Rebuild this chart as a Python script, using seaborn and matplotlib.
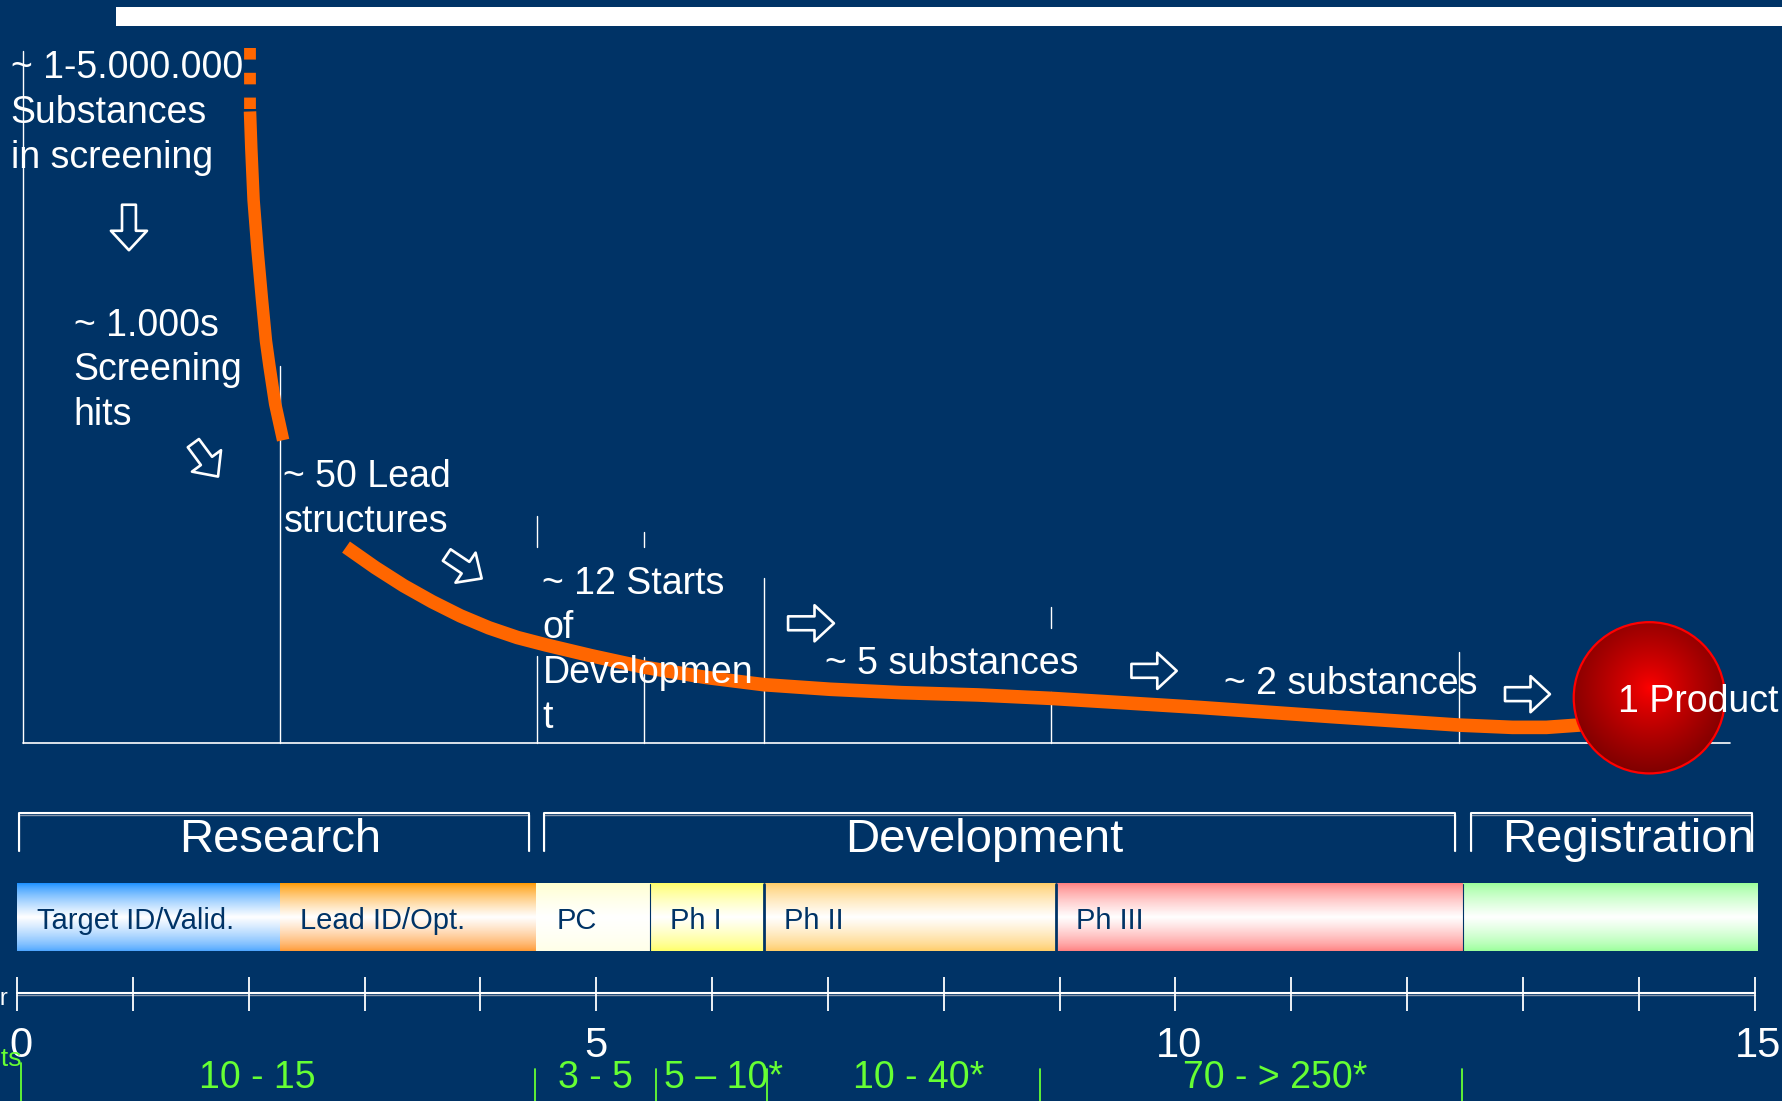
import numpy as np
import matplotlib
matplotlib.use("Agg")
import matplotlib.pyplot as plt
from matplotlib.patches import Ellipse
from matplotlib.colors import to_rgb
import seaborn as sns

NAVY = "#003366"
ORANGE = "#FF6600"
GREEN = "#66FF33"
WHITE = "#FFFFFF"
SHADE = "#8797AD"

# ---------------- data ----------------
# time axis (years)
years = list(range(0, 16))
year_labels = {0: "0", 5: "5", 10: "10", 15: "15"}

# phases of the pipeline (years)
phase_names = ["Target ID/Valid.", "Lead ID/Opt.", "PC", "Ph I", "Ph II", "Ph III", ""]
phase_start = [0.0, 2.27, 4.48, 5.46, 6.45, 8.97, 12.48]
phase_end = [2.27, 4.48, 5.46, 6.45, 8.97, 12.48, 15.02]
phase_top = ["#1A8FFF", "#FF9900", "#FFFFCC", "#FFFF66", "#FFCC66", "#FF7F7F", "#99FF99"]
phase_bottom = ["#4DA6FF", "#FF9933", "#FFFFE6", "#FFFF66", "#FFCC66", "#FF8080", "#99FF99"]

# overall stages
stage_names = ["Research", "Development", "Registration"]
stage_start = [0.02, 4.55, 12.55]
stage_end = [4.42, 12.41, 14.98]
stage_label_x = [2.27, 8.35, 13.905]

# costs per phase
cost_labels = ["10 - 15", "3 - 5", "5 – 10*", "10 - 40*", "70 - > 250*"]
cost_centers = [2.07, 4.99, 6.10, 7.78, 10.86]
cost_bounds = [0.03, 4.47, 5.52, 6.47, 8.83, 12.47]

# attrition funnel: x in years, y in rows counted from the top of the sheet
screen_dash_x = [2.008, 2.008]
screen_dash_y = [42, 95.5]
screen_x = [2.011, 2.022, 2.042, 2.076, 2.115, 2.149, 2.179, 2.228, 2.297]
screen_y = [98, 130, 176, 220, 264, 300, 322, 355, 387]
funnel_x = [2.84, 3.092, 3.338, 3.583, 3.828, 4.074, 4.319, 4.565, 4.957, 5.409,
            5.939, 6.449, 7.019, 7.637, 8.295, 8.923, 9.571, 10.209, 11.338,
            12.447, 12.909, 13.203, 13.547]
funnel_y = [481, 499, 515, 529, 541.5, 552, 560.5, 567, 576.5, 586.5,
            595.5, 602, 606, 609, 611, 614, 618, 622, 630,
            637.5, 639.5, 639.5, 637]

# stage annotations: (x, first baseline, lines)
notes = [
    (-0.055, 69, ["~ 1-5.000.000", "Substances", "in screening"]),
    (0.49, 295, ["~ 1.000s", "Screening", "hits"]),
    (2.30, 428, ["~ 50 Lead", "structures"]),
    (4.535, 522, ["~ 12 Starts", "of", "Developmen", "t"]),
    (6.975, 593, ["~ 5 substances"]),
    (10.415, 610, ["~ 2 substances"]),
]

# hollow block arrows: (tail x, tail y, tip x, tip y)
arrows = [
    (0.966, 180, 0.966, 220),
    (1.522, 389.6, 1.735, 419),
    (3.709, 488, 4.011, 508.6),
    (6.656, 548, 7.052, 548),
    (9.620, 589.8, 10.011, 589.8),
    (12.845, 610.3, 13.233, 610.3),
]

# vertical guide lines of the funnel chart: (x, top, bottom)
guides = [
    (0.049, 45, 653),
    (2.268, 322, 653),
    (4.486, 454, 481), (4.486, 577, 653),
    (5.409, 468, 481), (5.409, 578, 653),
    (6.449, 508, 653),
    (8.923, 534, 552), (8.923, 608, 653),
    (12.447, 573, 653),
]

# ---------------- figure ----------------
sns.set_theme(style="white")
plt.rcParams["font.family"] = ["Liberation Sans", "DejaVu Sans"]

fig = plt.figure(figsize=(17.83, 11.01), dpi=100)
fig.patch.set_facecolor(NAVY)
ax = fig.add_axes([0, 0, 1, 1])
ax.set_facecolor(NAVY)

X_LEFT, X_RIGHT = -0.1472, 15.2449
ROWS = 968

# top banner
ax.axhspan(6, 22.5, xmin=0.065, xmax=1.0, color=WHITE, lw=0, zorder=2)

# funnel axes and guides
ax.plot([0.049, 14.79], [653, 653], color=WHITE, lw=1.2, zorder=2)
for gx, gt, gb in guides:
    ax.plot([gx, gx], [gt, gb], color=WHITE, lw=1.0, zorder=2)

# attrition curve
sns.lineplot(x=screen_dash_x, y=screen_dash_y, ax=ax, color=ORANGE, lw=8.5,
             linestyle=(0, (0.98, 1.12)), dash_capstyle="butt", sort=False,
             estimator=None, zorder=3)
sns.lineplot(x=screen_x, y=screen_y, ax=ax, color=ORANGE, lw=9.0,
             solid_capstyle="butt", sort=False, estimator=None, zorder=3)
sns.lineplot(x=funnel_x, y=funnel_y, ax=ax, color=ORANGE, lw=9.8,
             solid_capstyle="butt", solid_joinstyle="round", sort=False,
             estimator=None, zorder=3)

# final product ball
cx, cy, cw, ch = 14.091, 613.5, 1.3056, 133
n = 300
u, v = np.meshgrid(np.linspace(-1, 1, n), np.linspace(-1, 1, n))
r = np.clip(np.sqrt(u ** 2 + (v + 0.12) ** 2) / 1.12, 0, 1)
ball = np.zeros((n, n, 3))
ball[..., 0] = 1.0 - 0.5 * r ** 0.85
img = ax.imshow(ball, extent=(cx - cw / 2, cx + cw / 2, cy + ch / 2, cy - ch / 2),
                origin="upper", aspect="auto", interpolation="bilinear", zorder=4)
ell = Ellipse((cx, cy), cw, ch, fc="none", ec="#FF0000", lw=1.6, zorder=5)
ax.add_patch(ell)
img.set_clip_path(ell)
ax.text(13.822, 626, "1 Product", color=WHITE, fontsize=27, ha="left",
        va="baseline", zorder=6)

# annotations
STEP = 39.3
for nx, ny, lines in notes:
    for i, line in enumerate(lines):
        ax.text(nx, ny + i * STEP, line, color=WHITE, fontsize=27, ha="left",
                va="baseline", zorder=6)

# hollow arrows
for x0, y0, x1, y1 in arrows:
    ax.annotate("", xy=(x1, y1), xytext=(x0, y0),
                arrowprops=dict(arrowstyle="simple,head_length=14,head_width=26,tail_width=10",
                                mutation_scale=1, fc=NAVY, ec=WHITE, lw=1.9,
                                shrinkA=0, shrinkB=0),
                zorder=6)

# stage brackets
for name, s0, s1, lx in zip(stage_names, stage_start, stage_end, stage_label_x):
    ax.plot([s0, s0, s1, s1], [748, 716.5, 716.5, 748], color=SHADE, lw=1.0, zorder=2)
    ax.plot([s0, s0, s1, s1], [748, 715, 715, 748], color=WHITE, lw=1.5, zorder=2)
    ax.text(lx, 749, name, color=WHITE, fontsize=34, ha="center", va="baseline")

# phase bars with vertical white-centred gradients
t = np.linspace(0, 1, 120)
w = np.clip(1 - np.abs(t - 0.5) / 0.5, 0, 1) ** 0.75
for name, p0, p1, ctop, cbot in zip(phase_names, phase_start, phase_end,
                                     phase_top, phase_bottom):
    c_top = np.array(to_rgb(ctop))
    c_bot = np.array(to_rgb(cbot))
    base = np.where((t < 0.5)[:, None], c_top[None, :], c_bot[None, :])
    grad = base * (1 - w[:, None]) + w[:, None] * 1.0
    ax.imshow(grad[:, None, :], extent=(p0, p1, 836, 777), origin="upper",
              aspect="auto", interpolation="bilinear", zorder=2)
    if name:
        ax.text(p0 + 0.175, 816.4, name, color=NAVY, fontsize=21, ha="left",
                va="baseline", zorder=3)
for bx, blw in zip(phase_start[3:], [0.8, 2.0, 2.0, 0.8]):
    ax.plot([bx, bx], [777, 836], color=NAVY, lw=blw, zorder=2.5)

# year ruler
ax.plot([years[0], years[-1]], [874.4, 874.4], color=SHADE, lw=1.0, zorder=2)
ax.plot([years[0], years[-1]], [872.7, 872.7], color=WHITE, lw=1.5, zorder=2)
ax.vlines(years, 859, 889, color=WHITE, lw=1.3, zorder=2)
for yv, lab in year_labels.items():
    ax.text(yv + (0.0 if yv == 5 else 0.03), 929.5, lab, color=WHITE, fontsize=30,
            ha="center", va="baseline")
ax.text(-0.072, 884, "Year", color=WHITE, fontsize=17, ha="right", va="baseline")

# cost row
ax.text(0.04, 937.5, "Costs", color=GREEN, fontsize=19, ha="right", va="baseline")
for lab, cxp in zip(cost_labels, cost_centers):
    ax.text(cxp, 957, lab, color=GREEN, fontsize=27, ha="center", va="baseline")
for i, bx in enumerate(cost_bounds):
    ax.plot([bx, bx], [935 if i == 0 else 940, ROWS], color=GREEN, lw=1.3, zorder=2)

ax.set_xlim(X_LEFT, X_RIGHT)
ax.set_ylim(ROWS, 0)
ax.axis("off")

fig.savefig("out.png", dpi=100, facecolor=NAVY)
